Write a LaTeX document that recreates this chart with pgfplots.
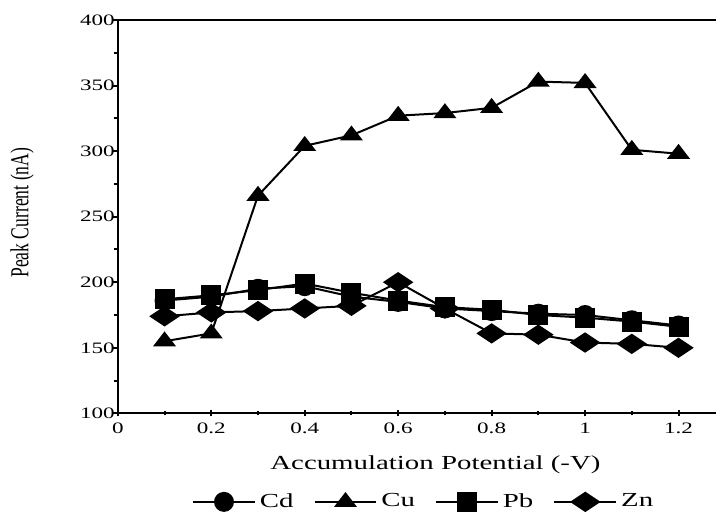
\documentclass[border=0pt]{standalone}
\usepackage{fontspec}
\setmainfont{Liberation Serif}[FakeStretch=1.45]
\newfontfamily\ylabfont{Liberation Serif}
\usepackage{graphicx}
\usepackage{pgfplots}
\pgfplotsset{compat=1.18}

\begin{document}
\begin{tikzpicture}
  \begin{axis}[
    scale only axis,
    width  = 299.5bp,
    height = 197bp,
    xmin = 0, xmax = 1.28,
    ymin = 100, ymax = 400,
    axis x line* = box,
    axis y line* = left,
    xtick pos = left,
    ytick pos = left,
    axis line style = {line width=1.1bp},
    xtick = {0,0.2,0.4,0.6,0.8,1,1.2},
    xticklabels = {0,0.2,0.4,0.6,0.8,1,1.2},
    minor xtick = {0.1,0.3,0.5,0.7,0.9,1.1},
    ytick = {100,150,200,250,300,350,400},
    minor ytick = {125,175,225,275,325,375},
    xtick align = center,
    ytick align = outside,
    major tick length = 3bp,
    minor tick length = 2bp,
    every tick/.style = {black, line width=1bp},
    /pgf/number format/assume math mode = true,
    ticklabel style = {font=\fontsize{8}{10}\selectfont},
    yticklabel shift = -5bp,
    xlabel = {Accumulation Potential (-V)},
    xlabel style = {at={(ticklabel cs:0.531)}, font=\fontsize{10}{12}\selectfont, yshift=-4bp},
    ylabel = {\scalebox{0.68}[1]{Peak Current (nA)}},
    ylabel style = {at={(rel axis cs:-0.16,0.51)}, anchor=center,
      font=\ylabfont\fontsize{13}{14}\selectfont},
    legend columns = 4,
    legend style = {draw=none, at={(0.513,-0.225)}, anchor=center,
      font=\fontsize{10}{12}\selectfont,
      /tikz/every even column/.append style={column sep=8bp}},
    legend image code/.code = {
      \draw[line width=1bp] (0bp,0bp) -- (31bp,0bp);
      \draw[#1, line width=1bp] plot coordinates {(15.5bp,0bp)};
    },
    every axis plot/.append style = {black, line width=1bp, mark options={solid, fill=black}},
  ]
    \addplot[mark=*, mark size=4.5bp] coordinates {
      (0.1,186) (0.2,189) (0.3,195) (0.4,197) (0.5,189) (0.6,185)
      (0.7,180) (0.8,178) (0.9,176) (1.0,175) (1.1,171) (1.2,167)};
    \addlegendentry{Cd}
    \addplot[mark=triangle*, mark size=5.5bp, mark options={yscale=0.75}] coordinates {
      (0.1,155) (0.2,161) (0.3,266) (0.4,304) (0.5,312) (0.6,327)
      (0.7,329) (0.8,333) (0.9,353) (1.0,352) (1.1,301) (1.2,298)};
    \addlegendentry{Cu}
    \addplot[mark=square*, mark size=4.5bp] coordinates {
      (0.1,187) (0.2,190) (0.3,194) (0.4,199) (0.5,192) (0.6,186)
      (0.7,181) (0.8,179) (0.9,175) (1.0,173) (1.1,170) (1.2,166)};
    \addlegendentry{Pb}
    \addplot[mark=diamond*, mark size=4.5bp, mark options={xscale=2}] coordinates {
      (0.1,174) (0.2,177) (0.3,178) (0.4,180) (0.5,182) (0.6,200)
      (0.7,180) (0.8,161) (0.9,160) (1.0,154) (1.1,153) (1.2,150)};
    \addlegendentry{Zn}
  \end{axis}
  \useasboundingbox (-59bp,-50bp) rectangle (299.5bp,207bp);
\end{tikzpicture}
\end{document}
